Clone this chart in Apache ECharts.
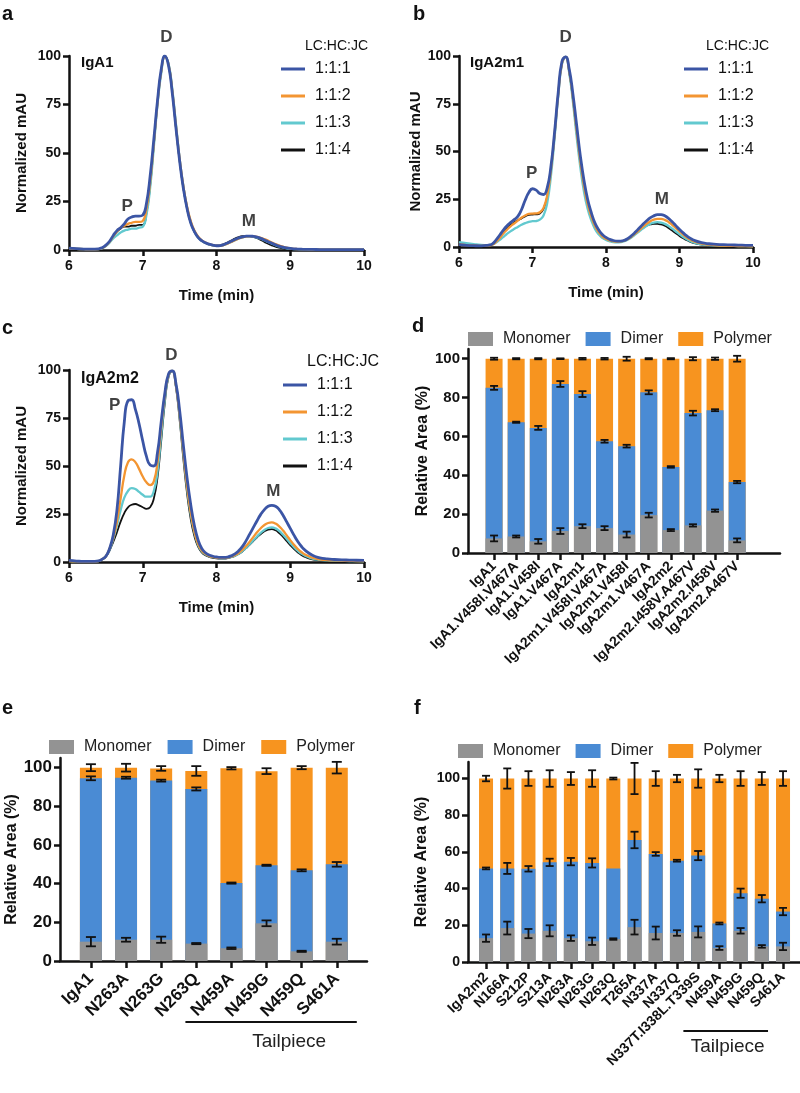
<!DOCTYPE html>
<html>
<head>
<meta charset="utf-8">
<title>IgA SEC profiles</title>
<script src="https://cdn.jsdelivr.net/npm/echarts@6/dist/echarts.min.js"></script>
<style>
html, body { margin: 0; padding: 0; background: #fff; }
#main { width: 800px; height: 1093px; }
</style>
</head>
<body>
<div id="main"></div>
<script>
// ---- chromatogram data (Normalized mAU vs time) ----
var time = [
  6.0, 6.1, 6.2, 6.3, 6.4,
  6.45, 6.5, 6.55, 6.6, 6.65, 6.7, 6.75, 6.8, 6.85, 6.9, 6.95,
  7.0, 7.05, 7.1, 7.15, 7.2, 7.25, 7.3, 7.35, 7.4, 7.45,
  7.5, 7.55, 7.6, 7.65, 7.7, 7.75, 7.8, 7.85, 7.9, 7.95,
  8.0, 8.05, 8.1, 8.15, 8.2, 8.25, 8.3, 8.35, 8.4, 8.45,
  8.5, 8.55, 8.6, 8.65, 8.7, 8.75, 8.8, 8.85, 8.9, 8.95,
  9.0, 9.05, 9.1, 9.15, 9.2,
  9.3, 9.4, 9.5, 9.6, 9.7, 9.8, 9.9, 10.0
];
var ratios = ['1:1:1', '1:1:2', '1:1:3', '1:1:4'];

// IgA1
var a_111 = [
  1.0, 0.7, 0.5, 0.4, 0.6,
  1.2, 2.5, 4.5, 7.5, 10, 11.5, 13.5, 16, 17, 17.5, 17.5,
  18, 24, 38, 57, 77, 93, 100, 95, 81, 63,
  46, 32, 21.5, 14, 9.5, 6.5, 4.8, 3.7, 3.0, 2.5,
  2.2, 2.3, 2.8, 3.6, 4.5, 5.4, 6.2, 6.8, 7.1, 7.2,
  7.0, 6.6, 6.0, 5.2, 4.3, 3.5, 2.7, 2.0, 1.5, 1.1,
  0.8, 0.6, 0.5, 0.4, 0.3,
  0.3, 0.2, 0.2, 0.2, 0.2, 0.2, 0.2, 0.2
];
var a_112 = [
  0.8, 0.6, 0.4, 0.3, 0.5,
  1.0, 2.2, 4.2, 7, 9.5, 11.5, 12.5, 13.5, 14, 14.5, 14.5,
  15, 21, 35, 55, 76, 92, 99.5, 95.5, 82, 64,
  47, 33, 22.5, 15, 10, 7, 5, 3.8, 3.0, 2.5,
  2.2, 2.2, 2.6, 3.3, 4.2, 5.1, 5.9, 6.5, 6.9, 7.1,
  7.0, 6.8, 6.3, 5.6, 4.8, 3.9, 3.0, 2.3, 1.7, 1.2,
  0.9, 0.6, 0.5, 0.4, 0.3,
  0.3, 0.2, 0.2, 0.2, 0.2, 0.2, 0.2, 0.2
];
var a_113 = [
  0.8, 0.6, 0.4, 0.3, 0.4,
  0.9, 2.0, 3.8, 6, 7.5, 9, 10, 10.5, 11, 11, 11.5,
  12, 18, 32, 53, 75, 91, 99.5, 96, 83, 65,
  47, 33, 22, 14.5, 9.5, 6.5, 4.7, 3.6, 2.9, 2.4,
  2.1, 2.2, 2.6, 3.3, 4.2, 5.1, 5.9, 6.5, 6.9, 7.0,
  6.8, 6.4, 5.8, 5.0, 4.1, 3.3, 2.5, 1.8, 1.3, 0.9,
  0.7, 0.5, 0.4, 0.3, 0.3,
  0.2, 0.2, 0.2, 0.2, 0.2, 0.2, 0.2, 0.2
];
var a_114 = [
  0.8, 0.6, 0.4, 0.3, 0.5,
  1.0, 2.3, 4.3, 7, 9.5, 11, 12, 12, 12.5, 12.5, 13,
  13, 19, 33, 54, 76, 92, 100, 95.5, 82, 63,
  46, 32, 21.5, 14, 9.5, 6.5, 4.7, 3.6, 2.9, 2.4,
  2.2, 2.4, 3.0, 3.9, 4.9, 5.9, 6.6, 7.1, 7.3, 7.2,
  6.8, 6.1, 5.2, 4.2, 3.2, 2.4, 1.7, 1.2, 0.8, 0.6,
  0.5, 0.4, 0.3, 0.3, 0.2,
  0.2, 0.2, 0.2, 0.2, 0.2, 0.2, 0.2, 0.2
];

// IgA2m1
var b_111 = [
  1.2, 0.9, 0.7, 0.6, 1.0,
  1.5, 3.5, 6, 8.7, 11, 12.8, 14.3, 16, 19.5, 24.5, 28.5,
  30.5, 29.8, 28, 27.5, 31, 42, 60, 81, 97, 99.5,
  93, 80, 64, 48, 35, 25, 18, 12.5, 9, 6.5,
  5, 4, 3.4, 3.1, 3.1, 3.5, 4.5, 6, 7.8, 9.8,
  11.8, 13.6, 15.2, 16.3, 17, 17, 16.3, 15, 13.2, 11.2,
  9.2, 7.4, 5.8, 4.5, 3.5,
  2.3, 1.7, 1.4, 1.2, 1.1, 1.0, 0.9, 0.8
];
var b_112 = [
  1.3, 1.0, 0.8, 0.6, 0.8,
  1.2, 2.5, 4.5, 7, 9, 10.8, 12.3, 13.8, 15.3, 16.5, 17.3,
  17.5, 17.6, 18.2, 20.5, 27, 40, 59, 80, 96, 99.5,
  92, 78, 61, 45, 32, 22.5, 16, 11, 7.8, 5.6,
  4.3, 3.5, 3.0, 2.8, 2.9, 3.3, 4.2, 5.5, 7.1, 8.8,
  10.5, 12.1, 13.4, 14.3, 14.7, 14.7, 14.2, 13.1, 11.6, 9.9,
  8.2, 6.5, 5.0, 3.8, 2.9,
  1.8, 1.2, 0.9, 0.7, 0.6, 0.5, 0.5, 0.4
];
var b_113 = [
  2.6, 2.0, 1.5, 1.1, 1.0,
  1.2, 2.2, 3.6, 5.2, 6.8, 8.2, 9.4, 10.5, 11.6, 12.5, 13.2,
  13.5, 13.6, 14.3, 16.5, 23, 37, 57, 79, 95.5, 99.5,
  91, 76, 58, 42, 29, 20, 14, 9.5, 6.6, 4.8,
  3.7, 3.0, 2.6, 2.5, 2.6, 3.0, 3.9, 5.1, 6.6, 8.1,
  9.6, 11.0, 12.1, 12.8, 13.0, 12.8, 12.1, 11.0, 9.6, 8.1,
  6.6, 5.2, 4.0, 3.0, 2.3,
  1.4, 1.0, 0.8, 0.7, 0.6, 0.5, 0.5, 0.4
];
var b_114 = [
  1.1, 0.8, 0.6, 0.5, 0.8,
  1.4, 3.0, 5.2, 7.6, 9.8, 11.5, 12.8, 14, 15, 16, 16.8,
  17, 17.1, 17.6, 20, 26.5, 39.5, 58.5, 80, 96, 99.5,
  91.5, 77, 60, 44, 31, 21.5, 15, 10.3, 7.2, 5.2,
  4.0, 3.3, 2.9, 2.8, 3.0, 3.5, 4.5, 5.8, 7.3, 8.7,
  10.0, 11.1, 11.8, 12.1, 12.1, 11.8, 11.1, 10.0, 8.6, 7.2,
  5.8, 4.6, 3.5, 2.7, 2.0,
  1.3, 0.9, 0.7, 0.6, 0.5, 0.5, 0.4, 0.4
];

// IgA2m2
var c_111 = [
  0.8, 0.5, 0.3, 0.3, 0.6,
  1.5, 3, 7, 14, 27, 50, 73, 84, 84.5, 79.5, 72,
  63, 55, 50.5, 50, 57, 73, 88, 98, 99.5, 93,
  79, 61, 44, 30, 19, 11.5, 7, 4.8, 3.6, 3.0,
  2.6, 2.4, 2.4, 2.6, 3.2, 4.2, 5.8, 8, 11, 14.5,
  18, 21.5, 24.8, 27.3, 29, 29.5, 29, 27.3, 24.5, 21,
  17.5, 14, 10.8, 8.2, 6.2,
  3.5, 2.2, 1.6, 1.3, 1.1, 1.0, 0.9, 0.8
];
var c_112 = [
  0.5, 0.3, 0.2, 0.2, 0.5,
  1.5, 3, 7, 12.5, 21, 33, 45, 52, 53.5, 52, 48.5,
  44.5, 41.5, 40, 42, 52, 70, 87, 97.5, 99.5, 92,
  77, 58, 40, 26, 16, 9.5, 6, 4.2, 3.2, 2.7,
  2.3, 2.1, 2.1, 2.3, 2.8, 3.6, 4.7, 6.3, 8.3, 10.6,
  13, 15.5, 17.6, 19.3, 20.3, 20.6, 20, 18.6, 16.5, 14,
  11.4, 9, 6.9, 5.2, 3.9,
  2.2, 1.4, 1.0, 0.8, 0.7, 0.6, 0.5, 0.5
];
var c_113 = [
  0.5, 0.3, 0.2, 0.2, 0.5,
  1.5, 3, 6.5, 12, 19, 27, 33.5, 37, 38.5, 38, 36.5,
  35, 34, 34, 37, 47, 66, 85, 97, 99.5, 92,
  76, 57, 39, 25, 15.5, 9, 5.6, 4, 3.1, 2.6,
  2.2, 2.0, 2.0, 2.2, 2.6, 3.3, 4.3, 5.7, 7.4, 9.3,
  11.3, 13.3, 15.2, 16.7, 17.7, 18, 17.5, 16.2, 14.3, 12.1,
  9.8, 7.7, 5.9, 4.4, 3.3,
  1.8, 1.1, 0.8, 0.7, 0.6, 0.5, 0.5, 0.4
];
var c_114 = [
  0.5, 0.3, 0.2, 0.2, 0.5,
  1.3, 2.8, 6, 10.5, 15.5, 21, 25.5, 28.5, 29.8, 30.2, 29.5,
  28.5, 27.7, 28.5, 33, 44, 63, 83, 96.5, 99.5, 91,
  74, 54, 36, 22.5, 13.5, 8, 5, 3.5, 2.7, 2.2,
  1.9, 1.8, 1.8, 2.0, 2.5, 3.2, 4.2, 5.5, 7.2, 9.0,
  11, 12.9, 14.6, 16, 16.9, 17.1, 16.5, 15.1, 13.2, 11,
  8.8, 6.8, 5.1, 3.7, 2.7,
  1.4, 0.9, 0.6, 0.5, 0.5, 0.4, 0.4, 0.4
];

// peak annotations [label, time, mAU]
var a_peaks = [['P', 6.79, 22.7], ['D', 7.32, 109.8], ['M', 8.44, 15]];
var b_peaks = [['P', 6.99, 38.7], ['D', 7.45, 110], ['M', 8.76, 25]];
var c_peaks = [['P', 6.62, 81.8], ['D', 7.39, 107.4], ['M', 8.77, 36.6]];

// ---- relative area data (%) ----
var parts = ['Monomer', 'Dimer', 'Polymer'];

var d_cats = ['IgA1', 'IgA1.V458I.V467A', 'IgA1.V458I', 'IgA1.V467A', 'IgA2m1',
  'IgA2m1.V458I.V467A', 'IgA2m1.V458I', 'IgA2m1.V467A', 'IgA2m2',
  'IgA2m2.I458V.A467V', 'IgA2m2.I458V', 'IgA2m2.A467V'];
var d_monomer = [7.5, 8.5, 6.0, 11.3, 13.8, 12.8, 9.5, 19.5, 11.8, 14.2, 21.8, 6.5];
var d_dimer = [77.5, 58.8, 58.4, 75.7, 68, 44.7, 45.5, 63.2, 32.5, 57.8, 51.7, 30];
var d_polymer = [15, 32.7, 35.6, 13, 18.2, 42.5, 45, 17.3, 55.7, 28, 26.5, 63.5];
var d_errMono = [1.5, 0.5, 1.2, 1.5, 1.0, 1.0, 1.5, 1.2, 0.5, 0.6, 0.6, 1.0];
var d_errDimer = [1.0, 0.3, 1.0, 1.5, 1.5, 0.7, 0.7, 1.0, 0.4, 1.2, 0.5, 0.6];
var d_errTotal = [0.5, 0.3, 0.3, 0.2, 0.4, 0.4, 1.0, 0.3, 0.3, 0.8, 0.6, 1.5];

var e_cats = ['IgA1', 'N263A', 'N263G', 'N263Q', 'N459A', 'N459G', 'N459Q', 'S461A'];
var e_monomer = [10, 11, 11, 9, 6.6, 19.5, 5, 10];
var e_dimer = [84.5, 83.8, 82.3, 80, 33.7, 30, 41.9, 40];
var e_polymer = [5.5, 5.2, 6.3, 9.3, 59.4, 48.7, 53.1, 50];
var e_errMono = [2.4, 1.0, 1.6, 0.3, 0.4, 1.5, 0.3, 1.5];
var e_errDimer = [1.0, 0.5, 0.5, 0.8, 0.3, 0.3, 0.5, 1.2];
var e_errTotal = [1.8, 2.0, 1.2, 2.5, 0.6, 1.5, 0.8, 3.0];
var e_tail = [4, 7];

var f_cats = ['IgA2m2', 'N166A', 'S212P', 'S213A', 'N263A', 'N263G', 'N263Q', 'T265A',
  'N337A', 'N337Q', 'N337T.I338L.T339S', 'N459A', 'N459G', 'N459Q', 'S461A'];
var f_monomer = [13, 18.5, 15.5, 17, 13, 11.3, 12.5, 19, 15.8, 15.8, 16.4, 7.6, 17, 8.5, 8.5];
var f_dimer = [38, 32.5, 35.3, 37.3, 41.7, 42.7, 38.5, 47.5, 43.1, 39.4, 41.6, 13.4, 20.5, 26, 19];
var f_polymer = [49, 49, 49.2, 45.7, 45.3, 46, 49, 33.5, 41.1, 44.8, 42, 79, 62.5, 65.5, 72.5];
var f_errMono = [2.0, 3.5, 2.5, 3.0, 1.5, 2.0, 0.4, 4.0, 3.5, 1.5, 3.0, 1.0, 1.5, 0.7, 2.0];
var f_errDimer = [0.5, 3.0, 1.5, 2.0, 2.0, 2.5, 0, 4.5, 1.0, 0.5, 2.5, 0.5, 2.5, 2.0, 2.0];
var f_errTotal = [1.5, 5.5, 4.0, 4.5, 3.5, 4.5, 0.5, 8.5, 4.0, 2.0, 5.0, 2.0, 4.0, 3.5, 4.0];
var f_tail = [11, 14];

var yTicks = [0, 20, 40, 60, 80, 100];

// ---- styles ----
var FONT = '"Liberation Sans", Arial, Helvetica, sans-serif';
var INK = '#111';
var ratioColors = ['#3b55a5', '#f39532', '#62c9cf', '#111111'];
var ratioWidths = [2.8, 2.3, 2.3, 1.8];
var partColors = ['#939393', '#4a8bd4', '#f7941f'];

var myChart = echarts.init(document.getElementById('main'));

function lineX(i) {
  return {
    gridIndex: i, type: 'value', min: 6, max: 10, interval: 1,
    axisLine: { show: true, onZero: false, lineStyle: { color: INK, width: 2.5 } },
    axisTick: { show: true, length: 6, lineStyle: { color: INK, width: 2.5 } },
    axisLabel: { fontSize: 14, fontWeight: 'bold', color: INK, fontFamily: FONT, margin: 9 },
    splitLine: { show: false },
    name: 'Time (min)', nameLocation: 'middle', nameGap: 38,
    nameTextStyle: { fontSize: 15, fontWeight: 'bold', color: INK, fontFamily: FONT }
  };
}
function lineY(i, gap) {
  return {
    gridIndex: i, type: 'value', min: 0, max: 100, interval: 25,
    axisLine: { show: true, onZero: false, lineStyle: { color: INK, width: 2.5 } },
    axisTick: { show: true, length: 6, lineStyle: { color: INK, width: 2.5 } },
    axisLabel: { fontSize: 14, fontWeight: 'bold', color: INK, fontFamily: FONT, margin: 8 },
    splitLine: { show: false },
    name: 'Normalized mAU', nameLocation: 'middle', nameGap: gap,
    nameTextStyle: { fontSize: 15, fontWeight: 'bold', color: INK, fontFamily: FONT }
  };
}
function barX(i, cats, min, max, fs, margin) {
  var idx = cats.map(function (c, k) { return k; });
  return {
    gridIndex: i, type: 'value', min: min, max: max,
    axisLine: { show: true, onZero: false, lineStyle: { color: INK, width: 2.5 } },
    axisTick: { show: true, length: 7, customValues: idx, lineStyle: { color: INK, width: 2.5 } },
    axisLabel: {
      customValues: idx, rotate: 45, margin: margin, fontSize: fs, fontWeight: 'bold',
      color: INK, fontFamily: FONT,
      formatter: function (v) { return cats[Math.round(v)] || ''; }
    },
    splitLine: { show: false }
  };
}
function barY(i, max, fs, gap) {
  return {
    gridIndex: i, type: 'value', min: 0, max: max,
    axisLine: { show: true, onZero: false, lineStyle: { color: INK, width: 2.5 } },
    axisTick: { show: true, length: 6, customValues: yTicks, lineStyle: { color: INK, width: 2.5 } },
    axisLabel: { customValues: yTicks, fontSize: fs, fontWeight: 'bold', color: INK, fontFamily: FONT, margin: 8 },
    splitLine: { show: false },
    name: 'Relative Area (%)', nameLocation: 'middle', nameGap: gap,
    nameTextStyle: { fontSize: 16, fontWeight: 'bold', color: INK, fontFamily: FONT }
  };
}

var series = [];

function addTraces(i, arrays, peaks) {
  arrays.forEach(function (arr, s) {
    series.push({
      type: 'line', name: ratios[s], xAxisIndex: i, yAxisIndex: i,
      data: time.map(function (t, k) { return [t, arr[k]]; }),
      showSymbol: false, smooth: true, z: 6 - s,
      lineStyle: { color: ratioColors[s], width: ratioWidths[s] },
      itemStyle: { color: ratioColors[s] }
    });
  });
  series.push({
    type: 'scatter', xAxisIndex: i, yAxisIndex: i, symbolSize: 0, silent: true, clip: false,
    data: peaks.map(function (p) { return { name: p[0], value: [p[1], p[2]] }; }),
    label: { show: true, position: 'inside', formatter: '{b}', fontSize: 17, fontWeight: 'bold', color: INK, fontFamily: FONT }
  });
}

// stacked bars drawn as overlapping cumulative bars (polymer total behind, monomer in front)
function addBars(i, mono, dimer, poly, errs, barW, capW) {
  var tops = mono.map(function (m, k) { return [m, m + dimer[k], m + dimer[k] + poly[k]]; });
  [2, 1, 0].forEach(function (s) {
    series.push({
      type: 'bar', name: parts[s], xAxisIndex: i, yAxisIndex: i,
      barWidth: barW, barGap: '-100%', itemStyle: { color: partColors[s] },
      data: tops.map(function (t, k) { return [k, t[s]]; })
    });
  });
  var eb = [];
  tops.forEach(function (t, k) {
    t.forEach(function (v, j) {
      var e = errs[j][k];
      if (e > 0) eb.push([k, v - e, v + e]);
    });
  });
  series.push({
    type: 'custom', xAxisIndex: i, yAxisIndex: i, silent: true, z: 5,
    encode: { x: 0, y: [1, 2] },
    data: eb,
    renderItem: function (params, api) {
      var lo = api.coord([api.value(0), api.value(1)]);
      var hi = api.coord([api.value(0), api.value(2)]);
      var h = capW / 2;
      var st = { stroke: INK, lineWidth: 1.8 };
      return {
        type: 'group', children: [
          { type: 'line', shape: { x1: lo[0], y1: lo[1], x2: hi[0], y2: hi[1] }, style: st },
          { type: 'line', shape: { x1: lo[0] - h, y1: lo[1], x2: lo[0] + h, y2: lo[1] }, style: st },
          { type: 'line', shape: { x1: hi[0] - h, y1: hi[1], x2: hi[0] + h, y2: hi[1] }, style: st }
        ]
      };
    }
  });
}

addTraces(0, [a_111, a_112, a_113, a_114], a_peaks);
addTraces(1, [b_111, b_112, b_113, b_114], b_peaks);
addTraces(2, [c_111, c_112, c_113, c_114], c_peaks);
addBars(3, d_monomer, d_dimer, d_polymer, [d_errMono, d_errDimer, d_errTotal], 17, 8);
addBars(4, e_monomer, e_dimer, e_polymer, [e_errMono, e_errDimer, e_errTotal], 22, 10);
addBars(5, f_monomer, f_dimer, f_polymer, [f_errMono, f_errDimer, f_errTotal], 14, 8);

function txt(text, left, top, size, weight) {
  return { text: text, left: left, top: top, padding: 0,
    textStyle: { fontSize: size, fontWeight: weight, color: INK, fontFamily: FONT } };
}
function ratioLegend(left, top) {
  return { orient: 'vertical', left: left, top: top, icon: 'rect', itemWidth: 24, itemHeight: 3,
    itemGap: 11, padding: 0, data: ratios,
    textStyle: { fontSize: 16, lineHeight: 16, color: INK, fontFamily: FONT, padding: [0, 0, 0, 5] } };
}
function partLegend(left, top, gap) {
  return { orient: 'horizontal', left: left, top: top, icon: 'rect', itemWidth: 25, itemHeight: 14,
    itemGap: gap, padding: 0, data: parts,
    textStyle: { fontSize: 16, color: '#222', fontFamily: FONT, padding: [0, 0, 0, 5] } };
}

var option = {
  animation: false,
  backgroundColor: '#fff',
  title: [
    txt('a', 2, 4, 20, 'bold'), txt('b', 413, 4, 20, 'bold'), txt('c', 2, 318, 20, 'bold'),
    txt('d', 412, 316, 20, 'bold'), txt('e', 2, 698, 20, 'bold'), txt('f', 414, 698, 20, 'bold'),
    txt('IgA1', 81, 55, 15, 'bold'), txt('IgA2m1', 470, 55, 15, 'bold'), txt('IgA2m2', 81, 371, 16, 'bold'),
    txt('LC:HC:JC', 305, 39, 14, 'normal'), txt('LC:HC:JC', 706, 39, 14, 'normal'),
    txt('LC:HC:JC', 307, 354, 16, 'normal')
  ],
  legend: [
    ratioLegend(281, 61), ratioLegend(684, 61), ratioLegend(283, 377),
    partLegend(468, 331, 15), partLegend(49, 739, 16), partLegend(458, 743, 15)
  ],
  grid: [
    { left: 69, top: 56, width: 295, height: 194 },
    { left: 459, top: 56, width: 294, height: 191 },
    { left: 69, top: 370, width: 295, height: 192 },
    { left: 468, top: 349, width: 312, height: 204 },
    { left: 60, top: 758, width: 307, height: 203 },
    { left: 468, top: 762, width: 332, height: 200 }
  ],
  xAxis: [
    lineX(0), lineX(1), lineX(2),
    barX(3, d_cats, -1.18, 12.94, 14, 11),
    barX(4, e_cats, -0.88, 7.86, 17, 15),
    barX(5, f_cats, -0.85, 14.8, 14, 13)
  ],
  yAxis: [
    lineY(0, 40), lineY(1, 32), lineY(2, 40),
    barY(3, 105, 15, 32), barY(4, 105, 17, 36), barY(5, 109, 14, 38)
  ],
  series: series
};

myChart.setOption(option);

// "Tailpiece" brackets under the rotated labels
function tailGraphic(axis, range, offL, offR, lineY, textY, textShift) {
  var x1 = myChart.convertToPixel({ xAxisIndex: axis }, range[0]) + offL;
  var x2 = myChart.convertToPixel({ xAxisIndex: axis }, range[1]) + offR;
  return [
    { type: 'line', shape: { x1: x1, y1: lineY, x2: x2, y2: lineY }, style: { stroke: INK, lineWidth: 2 } },
    { type: 'text', style: { text: 'Tailpiece', x: (x1 + x2) / 2 + textShift, y: textY,
      align: 'center', verticalAlign: 'middle', fontSize: 19, fontFamily: FONT, fill: '#222' } }
  ];
}
myChart.setOption({
  graphic: tailGraphic(4, e_tail, -46, 20, 1022, 1042, 18)
    .concat(tailGraphic(5, f_tail, -36, -15, 1031, 1047, 2))
});

window.addEventListener('resize', function () { myChart.resize(); });
</script>
</body>
</html>
